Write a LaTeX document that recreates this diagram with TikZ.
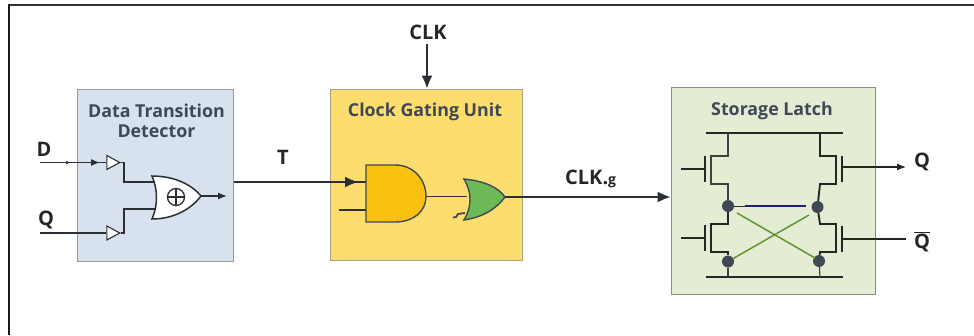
\documentclass[tikz,border=0pt]{standalone}
\usepackage{fontspec}
\setmainfont{Open Sans}
\usetikzlibrary{arrows.meta,shapes.geometric}
\definecolor{inkdark}{HTML}{3F4855}
\definecolor{inkline}{HTML}{2B2F36}
\tikzset{
	panel/.style={draw=#1,line width=1pt,inner sep=0pt},
	wire/.style={draw=inkline,line width=1.3pt},
	fet/.style={draw=black!85,line width=1.9pt},
	fetleft/.style={draw=black!75,line width=1.2pt},
	thin wire/.style={draw=black!85,line width=1.2pt},
	buffer/.style={isosceles triangle,isosceles triangle stretches,draw=inkline,fill=white,line width=1.1pt,inner sep=0pt,minimum width=14pt,minimum height=13pt},
	joint/.style={circle,fill=inkdark,inner sep=0pt,minimum size=12pt},
	title/.style={text=inkdark,font=\fontsize{17.8}{20}\selectfont\bfseries,align=center},
	label/.style={text=black!85,font=\fontsize{20}{22}\selectfont\bfseries},
	bigtip/.style={-{Latex[length=13pt,width=11pt]}},
	smalltip/.style={-{Latex[length=9pt,width=7pt]}}
}
\begin{document}
\begin{tikzpicture}[x=1pt,y=-1pt]
	\useasboundingbox (0,0) rectangle (974,335);
	\draw[line width=1.7pt,black!80] (974,5) -- (9,5);
	\draw[line width=2.4pt,black!90] (9,4.2) -- (9,335);

	\node[panel=gray!80,fill={rgb,255:red,216;green,226;blue,238},minimum width=156pt,minimum height=172pt] (detector) at (155,175) {};
	\node[panel=gray!80!yellow,fill={rgb,255:red,253;green,221;blue,110},minimum width=192pt,minimum height=171pt] (gating) at (426,174.5) {};
	\node[panel=gray!90,fill={rgb,255:red,228;green,237;blue,211},minimum width=204pt,minimum height=207pt] (latch) at (773,190.5) {};

	\node[title] (detectortitle) at (156.5,121) {Data Transition\\Detector};
	\node[title] (gatingtitle) at (425,112) {Clock Gating Unit};
	\node[title] (latchtitle) at (772,111) {Storage Latch};

	% inputs and detector
	\node[label] (labelD) at (44,149) {D};
	\node[label] (labelQ) at (46,220) {Q};
	\node[label] (labelT) at (283,157) {T};
	\node[label] (labelCLK) at (428,32) {CLK};
	\node[label,anchor=west,inner sep=0pt] (labelCLKg) at (565,179) {CLK.{\fontsize{14}{16}\selectfont g}};
	\node[label] (labelQa) at (922,162) {Q};
	\node[label] (labelQb) at (922,242) {$\overline{\mbox{Q}}$};

	\node[buffer] (bufD) at (111,162.5) {};
	\node[buffer] (bufQ) at (111,233) {};
	\coordinate (inD) at (40,162.5);
	\coordinate (inQ) at (40,233);
	\coordinate (tipD) at (100,162.5);
	\coordinate (xorA) at (155,182);
	\coordinate (xorB) at (155,209);
	\coordinate (xorOut) at (201,196);
	\coordinate (xorEnd) at (227,196);
	\draw[wire] (inD) -- (bufD.west);
	\draw[wire,smalltip] (inD) -- (tipD);
	\draw[wire] (inQ) -- (bufQ.west);
	\node[circle,fill=inkline,inner sep=0pt,minimum size=3.5pt] (dotD) at (67,162.5) {};
	\draw[wire] (bufD.apex) -- (124,162.5) |- (xorA);
	\draw[wire] (bufQ.apex) -- (124,233) |- (xorB);
	\draw[draw=inkline,fill=white,line width=1.5pt] (152,176) .. controls (175,176) and (192,185) .. (xorOut) .. controls (192,208) and (175,219) .. (152,219) .. controls (158,205) and (158,190) .. cycle;
	\draw[wire,smalltip] (xorOut) -- (xorEnd);
	\node[circle,draw=inkline,line width=1.3pt,inner sep=0pt,minimum size=17pt] (xorsign) at (176,197) {};
	\draw[inkline,line width=1.3pt] (xorsign.west) -- (xorsign.east) (xorsign.north) -- (xorsign.south);

	% gating unit
	\coordinate (andA) at (366,182);
	\coordinate (andB) at (366,210);
	\coordinate (andIn) at (339,210);
	\coordinate (andOut) at (426,196.5);
	\coordinate (tipT) at (358,182);
	\coordinate (orIn) at (467,196.5);
	\coordinate (orOut) at (505,197);
	\coordinate (clkTop) at (427,44);
	\draw[wire] (detector.east |- andA) -- (andA);
	\draw[wire,bigtip] (detector.east |- andA) -- (tipT);
	\draw[wire] (andIn) -- (andB);
	\draw[wire,bigtip] (clkTop) -- (gating.north -| clkTop);
	\draw[draw=inkdark,fill={rgb,255:red,251;green,193;blue,16},line width=1.4pt] (366,165) -- (395,165) .. controls (414,165) and (426,180) .. (andOut) .. controls (426,211) and (414,222) .. (395,222) -- (366,222) -- cycle;
	\draw[wire] (andOut) -- (orIn);
	\draw[draw=inkdark,fill={rgb,255:red,109;green,184;blue,87},line width=1.4pt] (464,179) .. controls (484,181) and (498,187) .. (orOut) .. controls (497,208) and (484,217) .. (464,220) .. controls (472,207) and (472,192) .. cycle;
	\draw[draw=inkdark,line width=1.8pt] (465,213) -- (458,214) -- (456,217) -- (453,217.5);
	\draw[wire,bigtip] (orOut) -- (latch.west |- orOut);

	% latch
	\coordinate (railTL) at (706,133);
	\coordinate (railTR) at (843,133);
	\coordinate (railBL) at (706,277);
	\coordinate (railBR) at (843,277);
	\node[joint] (nodeUL) at (728,206) {};
	\node[joint] (nodeUR) at (817.5,207) {};
	\node[joint] (nodeLL) at (728,261.5) {};
	\node[joint] (nodeLR) at (819,261) {};
	\draw[thin wire] (railTL) -- (railTR);
	\draw[thin wire] (railBL) -- (railBR);
	\draw[fet] (728,133) -- (820,133);
	\draw[fet] (728,277) -- (820,277);
	\draw[fetleft] (728,133) -- (728,156) -- (711,156) -- (711,184) -- (728,184) -- (nodeUL);
	\draw[fet] (nodeUL) -- (728,224) -- (711,224) -- (711,252) -- (728,252) -- (nodeLL);
	\draw[fetleft] (nodeLL) -- (728,277);
	\draw[fet] (820,133) -- (820,156) -- (836,156) -- (836,184) -- (820,184) -- (nodeUR);
	\draw[fet] (nodeUR) -- (820,224) -- (836,224) -- (836,252) -- (820,252) -- (nodeLR);
	\draw[fetleft] (nodeLR) -- (820,277);
	\draw[fet] (705,156) -- (705,182);
	\draw[fet] (705,225) -- (705,251);
	\draw[fet] (842,156) -- (842,182);
	\draw[fet] (842,226) -- (842,252);
	\draw[thin wire] (681,169) -- (705,169);
	\draw[thin wire] (681,238) -- (705,238);
	\draw[thin wire,smalltip] (842,167) -- (906,167);
	\draw[thin wire] (842,239) -- (906,239);
	\draw[inkline,line width=1pt] (nodeUL) -- (745,206);
	\draw[draw={rgb,255:red,31;green,31;blue,122},line width=1.3pt] (745,206) -- (806,206);
	\draw[draw={rgb,255:red,98;green,148;blue,52},line width=1.5pt] (737,213) -- (815,258);
	\draw[draw={rgb,255:red,98;green,148;blue,52},line width=1.5pt] (nodeLL) -- (809,215);
\end{tikzpicture}
\end{document}
